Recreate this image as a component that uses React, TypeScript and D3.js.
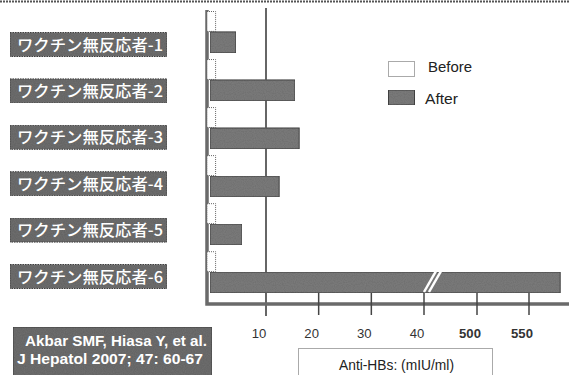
import React from 'react';
import * as d3 from 'd3';

const categories = [
  'ワクチン無反応者-1',
  'ワクチン無反応者-2',
  'ワクチン無反応者-3',
  'ワクチン無反応者-4',
  'ワクチン無反応者-5',
  'ワクチン無反応者-6',
];
const seriesNames = ['Before', 'After'];
const beforeValues = [1, 1, 1, 1, 1, 1];
const afterValues = [4.6, 15.5, 16.3, 12.5, 5.7, 580];
const tickValues = [10, 20, 30, 40, 500, 550];
const tickLabels = ['10', '20', '30', '40', '500', '550'];
const citation = ['Akbar SMF, Hiasa Y, et al.', 'J Hepatol 2007; 47: 60-67'];
const axisTitle = 'Anti-HBs: (mIU/ml)';

const W = 569;
const H = 375;
const SANS = "'Liberation Sans', Arial, sans-serif";
const JP = "'Noto Sans CJK JP', sans-serif";

export default function App() {
  // broken axis: linear 0–40, then 500–550
  const x = d3.scaleLinear().domain([0, 10, 40, 500, 550]).range([210, 266, 424, 477, 529]);
  const y = d3.scaleBand<string>().domain(categories).range([11, 293]).paddingInner(0.13);
  const sub = d3.scaleBand<string>().domain(seriesNames).range([0, y.bandwidth()]);
  const labelY = d3.scalePoint<string>().domain(categories).range([44.5, 276.5]);
  const axisY = 304;
  const axisX = 207;
  const barFill = '#7d7d7d';
  const values: Record<string, number[]> = { Before: beforeValues, After: afterValues };

  const last = categories[categories.length - 1];
  const breakX = 430;
  const b6y0 = (y(last) as number) + (sub('After') as number);
  const b6y1 = b6y0 + sub.bandwidth();

  return (
    <svg width={W} height={H} style={{ position: 'absolute', left: 0, top: 0, background: '#fff' }}>
      <defs>
        <filter id="grain" x="0" y="0" width="100%" height="100%">
          <feTurbulence type="fractalNoise" baseFrequency="0.9" numOctaves="1" seed="3" result="n" />
          <feColorMatrix in="n" type="matrix"
            values="0 0 0 0 0.5  0 0 0 0 0.5  0 0 0 0 0.5  0 0 0 0.6 -0.05" result="g" />
          <feComposite in="g" in2="SourceGraphic" operator="in" result="gg" />
          <feBlend in="SourceGraphic" in2="gg" mode="multiply" />
        </filter>
      </defs>

      {/* top border */}
      <line x1={0} x2={W} y1={1.5} y2={1.5} stroke="#555" strokeWidth={2} strokeDasharray="2 1" />

      {/* category labels */}
      {categories.map((c) => {
        const cy = labelY(c) as number;
        return (
          <g key={c}>
            <rect x={10} y={cy - 12} width={157} height={24} fill="#6f6f6f" stroke="#444"
              strokeWidth={1} strokeDasharray="1.5 1" filter="url(#grain)" />
            <text x={90} y={cy + 6} textAnchor="middle" fill="#fff" fontFamily={JP}
              fontSize={16} fontWeight={500} textLength={146} lengthAdjust="spacingAndGlyphs">{c}</text>
          </g>
        );
      })}

      {/* gridline at 10 */}
      <line x1={x(10)} x2={x(10)} y1={8} y2={316} stroke="#333" strokeWidth={1.5} />

      {/* axes */}
      <path d={`M${axisX},10 L${axisX},${axisY} L${W},${axisY}`} fill="none" stroke="#6a6a6a" strokeWidth={3.5} />
      {tickValues.slice(1).map((v) => (
        <line key={v} x1={x(v)} x2={x(v)} y1={293} y2={315} stroke="#444" strokeWidth={1.5} />
      ))}
      {tickValues.map((v, i) => (
        <text key={v} x={x(v) - 7} y={338} textAnchor="middle" fontFamily={SANS}
          fontSize={13} fontWeight={v >= 500 ? 700 : 400} fill="#333"
          textLength={tickLabels[i].length * 7.3} lengthAdjust="spacingAndGlyphs">{tickLabels[i]}</text>
      ))}

      {/* bars */}
      {categories.map((c, i) => (
        <g key={c} transform={`translate(0,${y(c)})`}>
          {seriesNames.map((s) => {
            const v = values[s][i];
            const y0 = sub(s) as number;
            return s === 'Before' ? (
              <rect key={s} x={x(0) - 3} y={y0 + 0.5} width={x(v) - x(0) + 3} height={sub.bandwidth() - 1}
                fill="#fff" stroke="#666" strokeWidth={1} strokeDasharray="1 1" />
            ) : (
              <rect key={s} x={x(0)} y={y0} width={x(v) - x(0)} height={sub.bandwidth()}
                fill={barFill} stroke="#444" strokeWidth={1} filter="url(#grain)" />
            );
          })}
        </g>
      ))}

      {/* axis break marks */}
      {[0, 5].map((o) => (
        <line key={o} x1={breakX - 6 + o} y1={b6y1 - 1} x2={breakX + 6 + o} y2={b6y0 - 1}
          stroke="#fff" strokeWidth={2.5} />
      ))}

      {/* legend */}
      <rect x={388.5} y={61.5} width={26} height={15} fill="#fff" stroke="#555" strokeDasharray="1 1" />
      <text x={428} y={72} fontFamily={SANS} fontSize={14.5} fill="#222" textLength={44} lengthAdjust="spacingAndGlyphs">{seriesNames[0]}</text>
      <rect x={388.5} y={90} width={26} height={15} fill={barFill} stroke="#444" filter="url(#grain)" />
      <text x={425} y={104} fontFamily={SANS} fontSize={14.5} fill="#222" textLength={33} lengthAdjust="spacingAndGlyphs">{seriesNames[1]}</text>

      {/* x-axis title */}
      <rect x={298.5} y={348.5} width={194} height={40} fill="#fff" stroke="#555" strokeDasharray="1 1" />
      <text x={396.5} y={370} textAnchor="middle" fontFamily={SANS} fontSize={14} fill="#222"
        textLength={115} lengthAdjust="spacingAndGlyphs">{axisTitle}</text>

      {/* citation */}
      <rect x={13} y={327} width={199} height={50} fill="#6f6f6f" stroke="#444" filter="url(#grain)" />
      <text x={116} y={346} textAnchor="middle" fontFamily={SANS} fontSize={15.5} fontWeight={700} fill="#fff"
        textLength={182} lengthAdjust="spacingAndGlyphs">{citation[0]}</text>
      <text x={110} y={364} textAnchor="middle" fontFamily={SANS} fontSize={15.5} fontWeight={700} fill="#fff"
        textLength={186} lengthAdjust="spacingAndGlyphs">{citation[1]}</text>
    </svg>
  );
}
